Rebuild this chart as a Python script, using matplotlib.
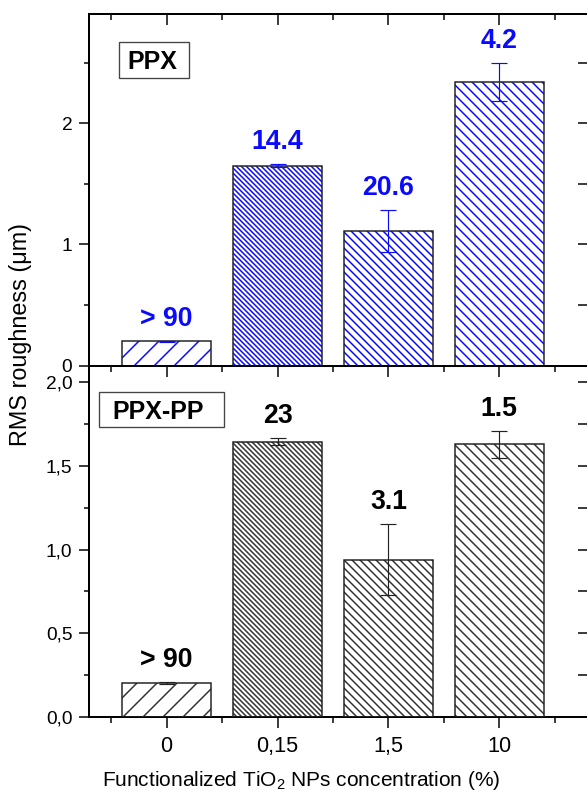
import matplotlib
matplotlib.use("Agg")
import matplotlib.pyplot as plt
from matplotlib.ticker import MultipleLocator, FixedLocator, FuncFormatter
from matplotlib.patches import Rectangle

plt.rcParams['font.family'] = ['Liberation Sans', 'DejaVu Sans']
plt.rcParams['mathtext.fontset'] = 'custom'
plt.rcParams['mathtext.rm'] = 'Liberation Sans'
plt.rcParams['mathtext.it'] = 'Liberation Sans:italic'
plt.rcParams['mathtext.bf'] = 'Liberation Sans:bold'
plt.rcParams['hatch.linewidth'] = 0.9

# ---- data ----
categories = ['0', '0,15', '1,5', '10']
ppx_values = [0.20, 1.65, 1.11, 2.34]
ppx_errors = [0.006, 0.012, 0.17, 0.16]
ppx_labels = ['> 90', '14.4', '20.6', '4.2']
ppxpp_values = [0.20, 1.645, 0.94, 1.63]
ppxpp_errors = [0.007, 0.022, 0.21, 0.08]
ppxpp_labels = ['> 90', '23', '3.1', '1.5']

hatches = ['//', '\\' * 8, '\\' * 5, '\\' * 4]
BLUE = '#0a0aff'
DARK = '#333333'

DPI = 120
fig = plt.figure(figsize=(587 / DPI, 793 / DPI), dpi=DPI)

left = 89 / 587
width = 499 / 587
ax_top = fig.add_axes([left, 1 - 365.7 / 793, width, (365.7 - 14) / 793])
ax_bot = fig.add_axes([left, 1 - 716.7 / 793, width, 351 / 793])

x = list(range(len(categories)))


def draw_panel(ax, values, errors, labels, hcolor, tcolor, ecolor):
    bars = ax.bar(x, values, width=0.8, color='white', edgecolor=hcolor,
                  linewidth=0, zorder=2)
    for b, h in zip(bars, hatches):
        b.set_hatch(h)
    ax.bar(x, values, width=0.8, fill=False, edgecolor='#222222',
           linewidth=0.9, zorder=3)
    ax.errorbar(x, values, yerr=errors, fmt='none', ecolor=ecolor,
                elinewidth=0.7, capsize=5, capthick=0.7, zorder=4)
    for xi, v, e, lab in zip(x, values, errors, labels):
        ax.annotate(lab, (xi, v + e), xytext=(0, 9), textcoords='offset points',
                    ha='center', va='baseline', fontsize=16, fontweight='bold',
                    color=tcolor, zorder=5)
    ax.set_xlim(-0.7, 3.8)
    for s in ax.spines.values():
        s.set_linewidth(1.2)
        s.set_color('black')


draw_panel(ax_top, ppx_values, ppx_errors, ppx_labels, BLUE, BLUE, BLUE)
draw_panel(ax_bot, ppxpp_values, ppxpp_errors, ppxpp_labels, DARK, 'black', '#222222')

minor_x = [-0.5, 0.5, 1.5, 2.5, 3.5]

# top panel axes
ax_top.set_ylim(0, 2.9)
ax_top.yaxis.set_major_locator(FixedLocator([0, 1, 2]))
ax_top.yaxis.set_minor_locator(FixedLocator([0.5, 1.5, 2.5]))
ax_top.set_xticks(x)
ax_top.xaxis.set_minor_locator(FixedLocator(minor_x))
ax_top.tick_params(axis='x', which='both', bottom=False, top=True, direction='in',
                   labelbottom=False, labeltop=False)
ax_top.tick_params(axis='x', which='major', length=6.5, width=0.9)
ax_top.tick_params(axis='x', which='minor', length=3.5, width=0.9)
ax_top.tick_params(axis='y', which='both', left=True, right=False, direction='out',
                   labelsize=11.5, pad=4)
ax_top.tick_params(axis='y', which='major', length=6, width=0.9)
ax_top.tick_params(axis='y', which='minor', length=3, width=0.9)

# bottom panel axes
ax_bot.set_ylim(0, 2.1)
ax_bot.yaxis.set_major_locator(MultipleLocator(0.5))
ax_bot.yaxis.set_minor_locator(FixedLocator([0.25, 0.75, 1.25, 1.75]))
ax_bot.yaxis.set_major_formatter(FuncFormatter(lambda v, p: f'{v:.1f}'.replace('.', ',')))
ax_bot.set_xticks(x)
ax_bot.set_xticklabels(categories)
ax_bot.xaxis.set_minor_locator(FixedLocator(minor_x))
ax_bot.tick_params(axis='x', which='both', bottom=True, top=False, direction='out',
                   labelsize=13, pad=5)
ax_bot.tick_params(axis='x', which='major', length=6.5, width=0.9)
ax_bot.tick_params(axis='x', which='minor', length=3.5, width=0.9)
ax_bot.tick_params(axis='y', which='both', left=True, right=False, direction='out',
                   labelsize=11.5, pad=4)
ax_bot.tick_params(axis='y', which='major', length=6, width=0.9)
ax_bot.tick_params(axis='y', which='minor', length=3, width=0.9)

# inward top ticks on bottom panel
sec = ax_bot.secondary_xaxis('top')
sec.set_xticks(x)
sec.xaxis.set_minor_locator(FixedLocator(minor_x))
sec.tick_params(axis='x', which='both', direction='in', labeltop=False, width=0.9)
sec.tick_params(axis='x', which='major', length=6.5)
sec.tick_params(axis='x', which='minor', length=3.5)
sec.spines['top'].set_linewidth(1.2)

# inward right ticks on both panels
for ax, maj, mnr in [(ax_top, [0, 1, 2], [0.5, 1.5, 2.5]),
                     (ax_bot, [0, 0.5, 1.0, 1.5, 2.0], [0.25, 0.75, 1.25, 1.75])]:
    sy = ax.secondary_yaxis('right')
    sy.yaxis.set_major_locator(FixedLocator(maj))
    sy.yaxis.set_minor_locator(FixedLocator(mnr))
    sy.tick_params(axis='y', which='both', direction='in', labelright=False, width=0.9)
    sy.tick_params(axis='y', which='major', length=6)
    sy.tick_params(axis='y', which='minor', length=6)

# panel name boxes
for ax, name, (bx0, by0, bx1, by1), (tx, ty) in [
        (ax_top, 'PPX', (0.060, 0.818, 0.2004, 0.920), (0.127, 0.8436)),
        (ax_bot, 'PPX-PP', (0.020, 0.8254, 0.2705, 0.925), (0.139, 0.848))]:
    ax.add_patch(Rectangle((bx0, by0), bx1 - bx0, by1 - by0, transform=ax.transAxes,
                           fill=False, edgecolor='#444444', linewidth=0.8, zorder=6))
    ax.text(tx, ty, name, transform=ax.transAxes, ha='center', va='baseline',
            fontsize=15, fontweight='bold', color='black', zorder=7)

fig.text(21 / 587, 1 - 334 / 793, 'RMS roughness (μm)', rotation=90,
         ha='center', va='center', fontsize=14)
fig.text(301 / 587, 1 - 786 / 793, r'Functionalized TiO$_\mathregular{2}$ NPs concentration (%)',
         ha='center', va='baseline', fontsize=12.5)

fig.savefig('out.png', dpi=DPI)
